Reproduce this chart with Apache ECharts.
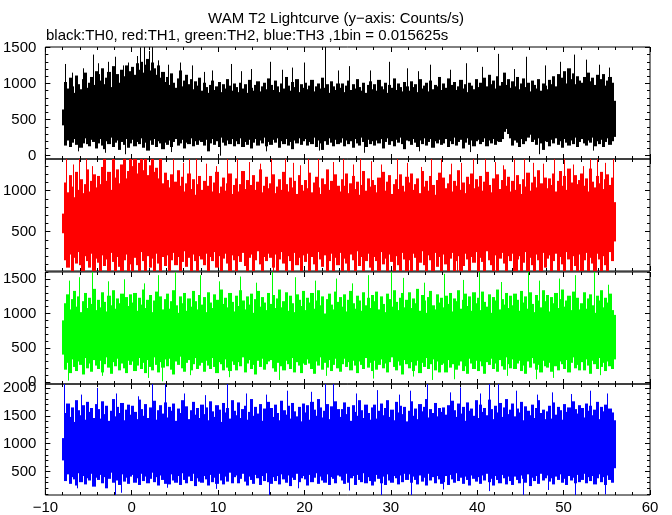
<!DOCTYPE html>
<html><head><meta charset="utf-8">
<script src="https://cdn.jsdelivr.net/npm/echarts@6/dist/echarts.min.js"></script>
<style>html,body{margin:0;padding:0;background:#fff}#c{width:672px;height:515px}</style>
</head><body><div id="c"></div><script>
// ---- data: per 0.25 s column, the low / high extent of the light curve (counts/s) ----
const BIN = 0.25;
const T0 = -8;
const titleText = 'WAM T2 Lightcurve (y\u2212axis: Counts/s)';
const subText = 'black:TH0, red:TH1, green:TH2, blue:TH3 ,1bin = 0.015625s';
const xTickLabels = [-10, 0, 10, 20, 30, 40, 50, 60];

const th0Range = [-46, 1505];
const th0Ticks = [0, 500, 1000, 1500];
const th0Hi = [
640,1020,930,1080,960,870,1110,990,920,1060,1150,940,1010,1090,980,1170,
1130,1040,1210,990,1080,1160,950,1240,1070,1130,1010,1190,1100,1250,1050,1170,
1230,1120,1280,1190,1300,1150,1260,1340,1180,1290,1210,1120,1250,1080,1160,1020,
1090,980,1140,1010,940,1070,1180,960,1040,1120,990,1060,920,1030,970,1080,
900,1010,950,870,980,1040,910,960,1020,880,990,930,1060,970,900,1000,
950,880,1010,930,990,870,1050,940,900,980,1030,890,960,1010,920,1070,
980,910,1040,960,880,1000,930,1090,970,900,1020,950,1060,880,990,940,
1010,920,970,1050,890,960,1000,930,1080,940,990,870,1030,960,910,1000,
940,1000,880,970,1040,910,990,930,1060,950,900,1010,870,980,1030,920,
990,900,1050,960,920,1010,870,980,940,1070,910,1000,950,890,1020,960,
900,1030,950,990,880,1060,930,970,1010,890,1040,920,980,960,1090,910,
1000,940,1070,890,980,1020,910,960,1050,930,990,880,1010,970,920,1060,
950,1010,900,1080,960,1120,990,1040,930,1100,970,1020,1150,980,1060,940,
1030,960,1090,920,1000,1070,950,1010,890,1040,980,930,1060,900,1000,970,
920,1050,990,1100,960,1130,1020,1080,1170,1000,1210,1060,1140,990,1100,1040,
1010,1090,960,1150,1030,1080,980,1120,1000,1060,1130,970,1040,1090,1010,760];
const th0Lo = [
420,140,210,120,180,230,150,200,110,170,240,160,130,220,190,100,
170,230,140,90,200,160,250,120,180,210,80,190,150,230,110,170,
220,130,190,160,240,110,180,70,210,150,230,120,200,170,90,180,
150,210,120,190,230,140,170,220,100,180,160,240,130,200,150,210,
190,140,220,60,170,230,150,200,120,250,180,140,210,160,230,130,
200,160,240,120,190,150,220,100,180,230,140,210,170,250,130,190,
150,220,180,240,110,200,160,230,140,190,90,210,170,240,150,200,
230,140,190,160,250,120,210,170,80,200,150,240,180,130,220,160,
180,240,130,210,160,200,110,230,170,140,250,190,120,220,160,200,
140,210,170,230,100,190,240,150,200,130,220,180,250,160,90,210,
200,150,230,180,120,210,160,240,140,190,230,110,200,170,220,150,
170,230,120,200,160,250,140,190,220,100,180,240,150,210,130,200,
220,160,190,240,130,210,170,230,150,200,190,230,330,370,300,240,
140,210,180,120,230,160,200,250,290,190,220,150,240,170,80,200,
190,130,220,170,240,150,200,110,230,180,140,210,160,250,120,190,
230,170,140,210,180,250,130,200,160,220,120,190,240,150,200,260];
const th0Peaks = [[-7.7,1270],[-6.9,1150],[-5.6,1210],[-4.5,1400],[-3.9,1280],[-2.7,1300],[-1.9,1370],[-1.0,1250],[-0.4,1290],[0.6,1380],[1.0,1500],[1.4,1505],[2.0,1450],[2.3,1505],[3.0,1320],[4.2,1260],[5.6,1290],[7.0,1250],[8.4,1160],[9.3,1180],[11.5,1270],[12.7,1170],[13.8,1200],[16.0,1300],[17.4,1190],[18.6,1220],[20.0,1290],[22.4,1505],[23.9,1180],[25.2,1240],[27.6,1180],[29.8,1300],[31.9,1210],[33.1,1170],[34.5,1260],[36.9,1190],[38.7,1280],[40.6,1230],[42.4,1410],[44.3,1200],[45.7,1370],[47.8,1250],[49.6,1300],[51.2,1400],[52.6,1330],[54.1,1260],[55.2,1220]];
const th0Dips = [[-6.2,60],[-3.1,40],[-0.8,20],[4.6,50],[10.2,0],[15.5,60],[21.7,70],[26.9,40],[33.3,60],[39.2,50],[47.1,20],[53.4,70]];

const th1Range = [19, 1387];
const th1Ticks = [500, 1000];
const th1Hi = [
720,1100,980,1190,1050,920,1230,1010,1140,970,1080,1260,990,1120,1200,1040,
1180,1080,1290,1387,1120,1230,1010,1387,1160,1260,1090,1320,1387,1150,1240,1387,
1300,1387,1210,1340,1387,1250,1387,1190,1310,1387,1230,1280,1150,1387,1090,1220,
1130,1040,1200,980,1110,1250,1060,1170,990,1090,1210,1020,1140,950,1080,1180,
1010,1120,940,1060,1180,990,1100,1230,970,1050,1160,1000,1090,1210,960,1070,
1150,990,1080,1240,1020,1130,950,1070,1190,1010,1110,1260,980,1060,1170,1030,
1090,1200,970,1050,1140,1010,1230,1080,990,1160,1040,1120,960,1190,1070,1000,
1130,1030,1220,980,1100,1170,1040,960,1150,1080,1260,1010,1120,990,1200,1060,
990,1140,1060,1210,970,1090,1180,1020,1110,950,1070,1240,1000,1150,1050,1130,
1070,980,1160,1040,1230,1000,1110,1190,960,1080,1140,1020,1200,1060,990,1170,
1100,1210,1010,1080,1150,970,1240,1050,1120,1000,1180,1070,950,1130,1220,1040,
1160,1030,1090,1200,990,1120,1060,1250,1010,1100,970,1170,1080,1210,1030,1140,
1050,1180,1000,1110,1230,1070,980,1150,1090,1200,1020,1130,1260,1060,1170,990,
1120,1010,1190,1080,960,1140,1050,1220,1000,1100,1170,1040,1250,1090,990,1160,
1030,1150,1070,1210,990,1120,1240,1060,1180,1010,1270,1100,1050,1190,1080,1130,
1210,1060,1150,990,1270,1110,1040,1180,1090,1230,1020,1140,1200,1070,1160,860];
const th1Lo = [
480,150,60,220,19,180,110,250,90,19,200,140,60,230,19,170,
120,19,210,80,160,19,240,130,19,190,70,19,150,220,19,100,
19,180,90,19,250,140,19,200,60,170,19,230,110,19,190,80,
210,19,150,240,90,190,19,130,260,70,180,19,220,140,19,200,
160,90,230,19,190,140,250,60,200,19,170,230,110,19,210,150,
19,200,130,240,80,19,180,220,19,150,260,100,19,190,140,230,
180,60,220,19,160,250,110,19,200,140,19,240,90,180,19,210,
130,230,19,190,100,19,250,160,70,210,19,140,230,19,180,90,
240,19,170,110,19,220,150,19,260,80,190,19,140,230,60,19,
190,140,19,250,100,170,19,220,130,19,200,90,19,240,160,19,
150,19,230,180,19,120,260,90,19,210,150,19,240,70,190,19,
220,100,19,170,240,19,140,200,19,80,230,160,19,190,120,250,
19,180,130,19,260,150,90,19,210,19,170,240,110,19,200,140,
230,19,160,200,19,120,250,19,180,90,19,220,150,19,240,60,
170,210,19,140,230,19,190,100,19,250,160,19,200,80,19,220,
19,150,240,19,180,110,19,230,160,19,200,90,19,250,140,380];
const th1Peaks = [[-7.6,1387],[-6.8,1320],[-6.1,1387],[-5.3,1387],[-4.6,1300],[4.8,1387],[5.9,1340],[6.6,1387],[7.4,1387],[8.6,1330],[9.7,1300],[11.0,1387],[12.2,1387],[13.6,1350],[14.9,1330],[16.1,1387],[17.8,1387],[18.7,1340],[19.5,1310],[20.4,1387],[21.6,1387],[23.3,1350],[24.5,1387],[25.6,1320],[26.4,1387],[27.7,1360],[28.9,1320],[30.7,1387],[31.9,1340],[33.5,1290],[34.6,1387],[35.8,1387],[37.0,1330],[38.1,1340],[39.5,1387],[40.9,1387],[42.1,1350],[43.0,1310],[44.2,1387],[45.4,1387],[46.5,1340],[47.6,1330],[48.9,1387],[50.1,1387],[51.1,1320],[52.2,1300],[53.1,1387],[53.9,1387],[54.8,1340],[55.7,1387]];
const th1Dips = [[-5.9,19],[1.7,19],[8.8,19],[16.3,19],[24.9,19],[31.6,19],[37.7,19],[44.6,19],[51.4,19]];

const th2Range = [-29, 1606];
const th2Ticks = [0, 500, 1000, 1500];
const th2Hi = [
900,1150,1280,1060,1210,1330,1100,1250,1020,1180,1300,1080,1230,1140,1360,1050,
1200,1090,1310,1170,1030,1260,1120,1340,1070,1220,1150,1290,1010,1240,1110,1280,
1160,1300,1040,1230,1130,1350,1080,1200,1270,1020,1190,1320,1100,1250,1060,1210,
1290,1070,1180,1340,1120,1010,1250,1150,1300,1040,1220,1100,1330,1180,1060,1270,
1130,1240,1020,1310,1160,1080,1280,1200,1050,1350,1140,1230,1090,1300,1170,1030,
1260,1110,1340,1190,1060,1250,1130,1290,1010,1210,1330,1100,1240,1160,1050,1300,
1140,1270,1080,1220,1350,1090,1180,1310,1040,1260,1150,1020,1280,1200,1110,1330,
1050,1230,1160,1300,1070,1190,1340,1120,1250,1000,1210,1290,1130,1060,1320,1170,
1240,1100,1280,1030,1200,1330,1150,1070,1260,1190,1040,1310,1120,1230,1080,1270,
1180,1320,1060,1250,1140,1020,1290,1210,1100,1340,1170,1050,1230,1300,1090,1200,
1310,1080,1220,1150,1360,1040,1270,1190,1010,1240,1330,1120,1060,1280,1160,1230,
1090,1260,1140,1300,1030,1220,1180,1340,1070,1200,1290,1110,1250,1040,1310,1150,
1230,1050,1320,1170,1100,1280,1010,1240,1190,1350,1060,1210,1130,1300,1080,1260,
1120,1290,1200,1040,1330,1160,1250,1070,1310,1140,1020,1270,1190,1090,1340,1180,
1270,1030,1240,1150,1300,1080,1210,1350,1100,1190,1260,1050,1320,1170,1230,1060,
1150,1310,1070,1220,1280,1120,1010,1260,1190,1340,1090,1230,1160,1290,1050,980];
const th2Lo = [
400,180,280,130,330,220,160,300,250,110,350,200,270,150,320,240,
190,310,140,260,360,210,120,290,230,340,170,270,200,130,310,250,
300,160,240,350,190,280,130,320,220,170,360,250,140,290,210,330,
230,340,180,110,300,250,370,200,150,280,320,170,260,350,190,240,
280,150,310,240,190,350,220,130,290,260,170,330,210,160,300,250,
170,290,230,360,140,270,320,190,250,110,310,220,340,180,260,300,
320,200,150,280,340,230,170,310,260,190,350,140,290,240,130,270,
250,330,270,190,120,300,240,360,180,280,210,320,160,250,340,200,
150,260,340,220,290,170,310,240,130,300,250,190,350,210,280,160,
310,180,250,330,200,270,140,290,360,220,170,300,240,110,320,260,
200,290,160,240,310,130,280,220,350,190,260,330,170,300,140,250,
270,140,320,210,260,350,180,240,300,160,230,120,340,270,190,310,
160,300,230,120,290,250,340,190,270,150,320,230,180,360,260,200,
330,190,270,310,160,240,120,300,210,350,270,180,250,140,310,230,
210,280,150,340,230,170,300,260,190,320,140,280,360,200,250,170,
290,170,330,240,120,310,260,190,350,220,280,160,300,230,190,330];
const th2Peaks = [[-7.3,1480],[-6.1,1530],[-4.6,1606],[-2.8,1470],[-0.9,1500],[1.4,1440],[3.0,1560],[5.0,1606],[7.9,1560],[10.1,1470],[12.5,1540],[14.4,1450],[16.2,1606],[18.9,1530],[21.2,1480],[23.7,1510],[25.5,1440],[27.3,1560],[30.0,1606],[31.4,1520],[33.8,1450],[36.2,1580],[38.4,1490],[40.2,1606],[42.8,1460],[45.9,1606],[47.2,1480],[49.5,1510],[51.3,1560],[53.5,1606],[55.1,1420]];
const th2Dips = [[-7.4,20],[-3.5,90],[1.9,60],[3.5,10],[6.8,100],[11.3,70],[17.1,30],[22.5,90],[27.9,50],[32.6,80],[34.8,30],[37.3,40],[43.5,90],[46.8,40],[48.8,60],[54.2,100]];

const th3Range = [80, 2070];
const th3Ticks = [500, 1000, 1500, 2000];
const th3Hi = [
1100,1550,1720,1480,1650,1390,1780,1600,1510,1690,1430,1750,1570,1640,1460,1710,
1620,1450,1760,1530,1680,1410,1590,1800,1490,1660,1550,1730,1420,1610,1700,1520,
1680,1570,1440,1790,1620,1500,1710,1460,1650,1580,1770,1430,1600,1690,1540,1740,
1470,1660,1590,1720,1410,1630,1550,1780,1490,1670,1440,1600,1750,1520,1640,1460,
1700,1530,1650,1420,1760,1580,1480,1690,1610,1390,1730,1560,1640,1450,1780,1590,
1510,1740,1460,1620,1680,1430,1570,1800,1500,1660,1540,1710,1410,1630,1590,1750,
1640,1480,1700,1550,1420,1770,1600,1520,1680,1450,1730,1580,1490,1660,1400,1720,
1560,1690,1430,1750,1610,1500,1800,1650,1470,1590,1710,1440,1670,1540,1760,1620,
1480,1620,1740,1530,1660,1410,1690,1570,1500,1780,1600,1460,1700,1550,1430,1650,
1700,1450,1590,1720,1510,1640,1780,1480,1610,1420,1750,1560,1680,1530,1660,1400,
1590,1760,1500,1630,1440,1710,1580,1660,1800,1470,1620,1550,1730,1490,1640,1570,
1650,1520,1690,1430,1770,1600,1480,1720,1540,1660,1410,1740,1590,1630,1500,1780,
1460,1700,1570,1640,1510,1790,1620,1440,1680,1560,1730,1480,1650,1800,1530,1610,
1720,1490,1630,1560,1750,1420,1670,1590,1510,1700,1460,1640,1780,1550,1610,1440,
1580,1680,1450,1740,1520,1660,1600,1430,1710,1570,1650,1490,1760,1620,1540,1690,
1640,1470,1720,1590,1680,1510,1610,1750,1440,1660,1580,1700,1490,1630,1560,1420];
const th3Lo = [
700,330,450,280,400,360,250,470,310,420,270,380,340,460,230,390,
350,440,290,400,200,370,480,300,420,340,260,450,320,390,280,410,
440,300,380,260,460,330,410,290,370,480,310,400,250,430,350,280,
390,270,450,340,300,420,260,470,350,290,410,330,460,240,380,320,
300,420,360,250,440,310,390,280,460,340,270,410,320,480,290,400,
430,290,370,460,320,250,410,350,280,440,380,260,420,330,470,310,
280,400,330,420,270,450,360,300,430,240,390,350,460,310,380,420,
360,250,440,310,390,470,280,410,340,300,450,260,400,370,290,430,
410,340,280,460,300,380,420,260,440,350,310,470,290,400,330,250,
320,440,370,290,410,260,450,340,300,420,380,270,430,310,460,350,
450,300,410,350,270,430,320,390,250,460,340,400,290,420,360,280,
310,420,260,440,360,300,470,330,390,280,410,350,250,430,370,320,
400,280,430,340,460,310,370,250,420,350,290,440,380,270,410,330,
260,410,350,290,430,370,300,450,240,390,330,420,280,460,340,380,
430,320,380,270,410,350,450,300,370,260,420,340,390,290,440,310,
350,460,290,400,330,420,270,380,450,310,400,260,430,350,300,560];
const th3Peaks = [[-7.8,2070],[-5.9,1880],[-4.0,2000],[-1.8,1900],[0.7,1850],[2.4,2070],[3.8,2070],[6.1,1900],[8.5,1870],[11.0,2070],[13.2,1900],[15.6,1880],[18.0,1950],[20.7,1930],[22.4,2070],[23.3,2070],[26.0,1900],[28.4,1960],[30.9,1880],[32.2,1950],[34.2,2070],[36.8,1920],[38.0,2010],[40.3,1900],[41.4,2070],[42.4,2070],[44.5,1950],[46.9,1880],[48.6,1920],[50.8,1890],[53.0,1950],[55.0,1900]];
const th3Dips = [[-6.3,200],[-1.9,80],[-1.2,120],[4.1,210],[9.8,190],[15.9,80],[19.3,200],[25.1,160],[28.8,80],[32.3,80],[36.0,180],[41.4,150],[45.3,80],[48.2,170],[51.3,80],[54.8,90]];

// ---- chart ----
const FONT = '"Liberation Sans", Arial, Helvetica, sans-serif';
const panels = [
  {hi: th0Hi, lo: th0Lo, peaks: th0Peaks, dips: th0Dips, range: th0Range, labels: th0Ticks, mid: 520, color: '#000000'},
  {hi: th1Hi, lo: th1Lo, peaks: th1Peaks, dips: th1Dips, range: th1Range, labels: th1Ticks, mid: 520, color: '#ff0000'},
  {hi: th2Hi, lo: th2Lo, peaks: th2Peaks, dips: th2Dips, range: th2Range, labels: th2Ticks, mid: 680, color: '#00ff00'},
  {hi: th3Hi, lo: th3Lo, peaks: th3Peaks, dips: th3Dips, range: th3Range, labels: th3Ticks, mid: 950, color: '#0000ff'}
];
const gridTops = [47, 159, 272, 384];
const grids = [], xAxes = [], yAxes = [], series = [];

function multiples(lo, hi, step) {
  const out = [];
  for (let v = Math.ceil(lo / step) * step; v <= hi; v += step) out.push(v);
  return out;
}
function rangeItem(color) {
  return function (params, api) {
    const t = api.value(0), lo = api.value(1), hi = api.value(2);
    const a = api.coord([t, hi]), b = api.coord([t + BIN, lo]);
    const x0 = Math.floor(a[0]), x1 = Math.ceil(b[0]);
    return {type: 'rect', shape: {x: x0, y: a[1], width: x1 - x0, height: b[1] - a[1]},
            style: {fill: color}};
  };
}
function spikeItem(color, mid) {
  return function (params, api) {
    const t = api.value(0), v = api.value(1);
    const a = api.coord([t, v]), b = api.coord([t, mid]);
    const x = Math.round(a[0]) + 0.5;
    return {type: 'line', shape: {x1: x, y1: a[1], x2: x, y2: b[1]}, style: {stroke: color, lineWidth: 1}};
  };
}
const plain = v => String(v).replace('-', '\u2212');

panels.forEach((p, g) => {
  grids.push({left: 45, width: 605, top: gridTops[g], height: 112, show: true,
    borderColor: '#000', borderWidth: 1, backgroundColor: 'transparent'});
  ['bottom', 'top'].forEach(pos => {
    xAxes.push({gridIndex: g, type: 'value', min: -10, max: 60, interval: 10, position: pos,
      axisLine: {show: false, onZero: false}, splitLine: {show: false},
      axisTick: {show: true, inside: true, length: 5, lineStyle: {color: '#000'}},
      minorTick: {show: true, splitNumber: 5, length: 3, lineStyle: {color: '#000'}},
      axisLabel: {show: g === 3 && pos === 'bottom', margin: 5, fontSize: 15, color: '#000', fontFamily: FONT,
        customValues: xTickLabels, formatter: plain}});
  });
  const [mn, mx] = p.range;
  ['left', 'right'].forEach(pos => {
    yAxes.push({gridIndex: g, type: 'value', min: mn, max: mx, position: pos,
      axisLine: {show: false, onZero: false}, splitLine: {show: false},
      axisTick: {show: true, inside: true, length: 5, customValues: multiples(mn, mx, 500), lineStyle: {color: '#000'}},
      axisLabel: {show: pos === 'left', margin: 9, fontSize: 15, color: '#000', fontFamily: FONT,
        customValues: p.labels, formatter: plain}});
    yAxes.push({gridIndex: g, type: 'value', min: mn, max: mx, position: pos,
      axisLine: {show: false, onZero: false}, splitLine: {show: false},
      axisTick: {show: true, inside: true, length: 3, customValues: multiples(mn, mx, 100), lineStyle: {color: '#000'}},
      axisLabel: {show: false}});
  });
  const n = Math.min(p.hi.length, p.lo.length);
  const cols = [];
  for (let i = 0; i < n; i++) cols.push([T0 + i * BIN, p.lo[i], p.hi[i]]);
  series.push({type: 'custom', xAxisIndex: 2 * g, yAxisIndex: 4 * g, clip: true, silent: true,
    encode: {x: 0, y: [1, 2]}, data: cols, renderItem: rangeItem(p.color)});
  series.push({type: 'custom', xAxisIndex: 2 * g, yAxisIndex: 4 * g, clip: true, silent: true,
    encode: {x: 0, y: 1}, data: p.peaks.concat(p.dips), renderItem: spikeItem(p.color, p.mid)});
});

const chart = echarts.init(document.getElementById('c'), null, {renderer: 'canvas'});
chart.setOption({
  animation: false,
  backgroundColor: '#fff',
  title: [
    {text: titleText, left: 'center', top: 6, textStyle: {fontSize: 15, fontWeight: 'normal', color: '#000', fontFamily: FONT}},
    {text: subText, left: 41, top: 23, textStyle: {fontSize: 15, fontWeight: 'normal', color: '#000', fontFamily: FONT}}
  ],
  grid: grids, xAxis: xAxes, yAxis: yAxes, series: series
});
</script></body></html>
